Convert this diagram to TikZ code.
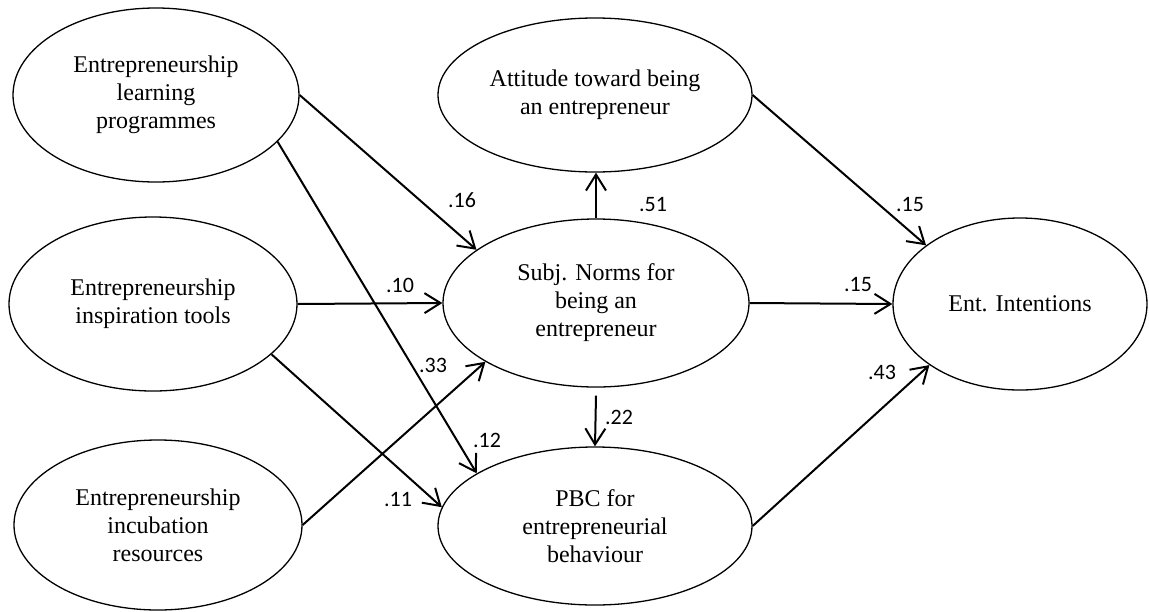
\documentclass[tikz,border=0pt]{standalone}
\usepackage{fontspec}
\setmainfont{Liberation Serif}
\newfontfamily\labfont{Carlito}
\usetikzlibrary{shapes.geometric,arrows.meta}
\begin{document}
\begin{tikzpicture}[x=1pt,y=-1pt,
  lat/.style={ellipse,draw,line width=1.3pt,inner sep=0pt,align=center,
    font=\fontsize{24}{28}\selectfont},
  arr/.style={line width=2pt,-{Straight Barb[length=16pt,width=20pt,line width=2pt]}},
  coef/.style={font=\labfont\fontsize{22}{25}\selectfont,inner sep=0pt}]
\useasboundingbox (0,0) rectangle (1149,611);
\node[lat,minimum width=286pt,minimum height=174pt] (E1) at (156,95) {Entrepreneurship\\learning\\programmes};
\node[lat,minimum width=288pt,minimum height=174pt] (E2) at (153,304) {Entrepreneurship\\inspiration tools};
\node[lat,minimum width=288pt,minimum height=170pt] (E3) at (158,525) {Entrepreneurship\\incubation\\resources};
\node[lat,minimum width=314pt,minimum height=154pt] (Att) at (595,95) {Attitude toward being\\an entrepreneur};
\node[lat,minimum width=306pt,minimum height=168pt] (Subj) at (596,303) {Subj. Norms for\\being an\\entrepreneur};
\node[lat,minimum width=314pt,minimum height=158pt] (PBC) at (595,526) {PBC for\\entrepreneurial\\behaviour};
\node[lat,minimum width=254pt,minimum height=172pt] (EI) at (1020,304) {Ent. Intentions};

\draw[arr] (E1.east) -- (Subj.156);
\draw[arr] (E1.-21) -- (PBC.156);
\draw[arr] (E2.east) -- (Subj.180);
\draw[arr] (E2.-23) -- (PBC.173);
\draw[arr] (E3.east) -- (Subj.208);
\draw[arr] (Subj.north) -- (Subj.north |- Att.south);
\draw[arr] ([yshift=-8pt]Subj.south) -- (PBC.north);
\draw[arr] (Att.east) -- (EI.148);
\draw[arr] (Subj.east) -- (EI.west);
\draw[arr] (PBC.east) -- (EI.214);

\node[coef] (c16) at (462,200) {.16};
\node[coef] (c12) at (487,440) {.12};
\node[coef] (c10) at (400,285) {.10};
\node[coef] (c11) at (398,499) {.11};
\node[coef] (c33) at (433,365) {.33};
\node[coef] (c51) at (653,205) {.51};
\node[coef] (c22) at (619,417) {.22};
\node[coef] (c15a) at (910,205) {.15};
\node[coef] (c15b) at (858,285) {.15};
\node[coef] (c43) at (882,372) {.43};
\end{tikzpicture}
\end{document}
